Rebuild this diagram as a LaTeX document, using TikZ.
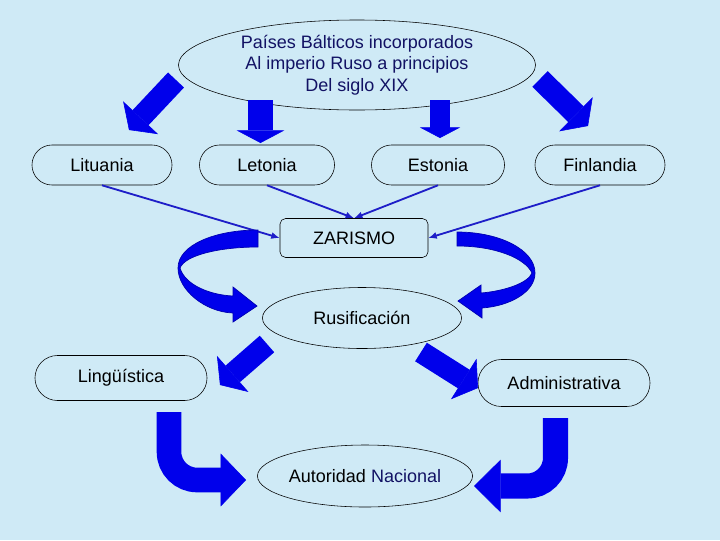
\documentclass[tikz,border=0pt]{standalone}
\usepackage{fontspec}
\setmainfont{Liberation Sans}
\usetikzlibrary{shapes.geometric}
\usetikzlibrary{shapes.misc}
\usetikzlibrary{arrows.meta}
\definecolor{fondo}{RGB}{207,234,246}
\definecolor{azul}{RGB}{0,0,235}
\definecolor{azullinea}{RGB}{30,30,200}
\definecolor{marino}{RGB}{18,18,100}
\tikzset{
	pais/.style={draw, rounded rectangle, minimum height=1cm, inner sep=0pt},
	globo/.style={draw, ellipse, inner sep=0pt},
	flecha/.style={azullinea, line width=1.3pt, -{Latex[length=6pt,width=5pt]}},
	bloque/.style={azul, line width=15.6pt, -{Triangle[length=12pt,width=34pt,line width=0.4pt]}},
	cinta/.style={fill=azul, draw=azul!75!black, line width=0.5pt}
}

\begin{document}
\begin{tikzpicture}[x=0.025cm, y=-0.025cm, font=\fontsize{12.8}{15.3}\selectfont]
		\fill[fondo] (0,0) rectangle (720,540);
		
		\node[globo, minimum width=8.925cm, minimum height=2.25cm, align=center, text=marino] (paises) at (357,65) {Países Bálticos incorporados\\Al imperio Ruso a principios\\Del siglo XIX};
		\node[pais, minimum width=3.5cm] (lituania) at (102,165) {Lituania};
		\node[pais, minimum width=3.375cm] (letonia) at (267,165) {Letonia};
		\node[pais, minimum width=3.325cm] (estonia) at (438,165) {Estonia};
		\node[pais, minimum width=3.25cm] (finlandia) at (600,165) {Finlandia};
		\node[draw, rounded corners=4pt, minimum width=3.7cm, minimum height=0.975cm] (zarismo) at (354,238) {ZARISMO};
		\node[globo, minimum width=4.975cm, minimum height=1.525cm] (rusif) at (362,318) {Rusificación};
		\node[pais, minimum width=4.3cm, minimum height=1.125cm] (linguistica) at (121,378) {Lingüística};
		\node[pais, minimum width=4.3cm, minimum height=1.175cm] (admin) at (564,383) {Administrativa};
		\node[globo, minimum width=5.375cm, minimum height=1.55cm] (autoridad) at (365,476) {Autoridad \textcolor{marino}{Nacional}};
		
		\draw[flecha] (lituania.south) -- (zarismo.west);
		\draw[flecha] (letonia.south) -- (zarismo.north);
		\draw[flecha] (estonia.south) -- (zarismo.north);
		\draw[flecha] (finlandia.south) -- (zarismo.east);
		
		\draw[bloque] (176,80) -- (129,130);
		\draw[bloque, line width=17.8pt, -{Triangle[length=9pt,width=34pt,line width=0.4pt]}] (260.5,100) -- (260.5,143);
		\draw[bloque, line width=14pt, -{Triangle[length=7.5pt,width=28.5pt,line width=0.4pt]}] (440,100) -- (440,138);
		\draw[bloque] (540,79) -- (588,126);
		\draw[bloque] (267,344) -- (220,385);
		\draw[bloque] (421,352) -- (478,388);
		
		\filldraw[cinta] (258,230) .. controls (215,230) and (178,245) .. (178,268) .. controls (178,290) and (205,312) .. (233,313) -- (233,322) -- (257,306) -- (233,287) -- (233,296) .. controls (210,295) and (185,285) .. (180,268) .. controls (185,255) and (220,247) .. (258,247) -- cycle;
		\filldraw[cinta] (457,232) .. controls (500,232) and (535,250) .. (535,273) .. controls (535,292) and (510,306) .. (482,308) -- (482,318) -- (458,301) -- (481,285) -- (481,293) .. controls (505,291) and (528,283) .. (532,273) .. controls (525,258) and (495,246) .. (457,246) -- cycle;
		
		\draw[bloque, line width=17.5pt, rounded corners=20pt, -{Triangle[length=18pt,width=37.5pt,line width=0.4pt]}] (169,412) |- (246,480);
		\draw[bloque, line width=17.8pt, rounded corners=20pt, -{Triangle[length=19pt,width=37.5pt,line width=0.4pt]}] (555.5,418) |- (474,486);
	\end{tikzpicture}
\end{document}
